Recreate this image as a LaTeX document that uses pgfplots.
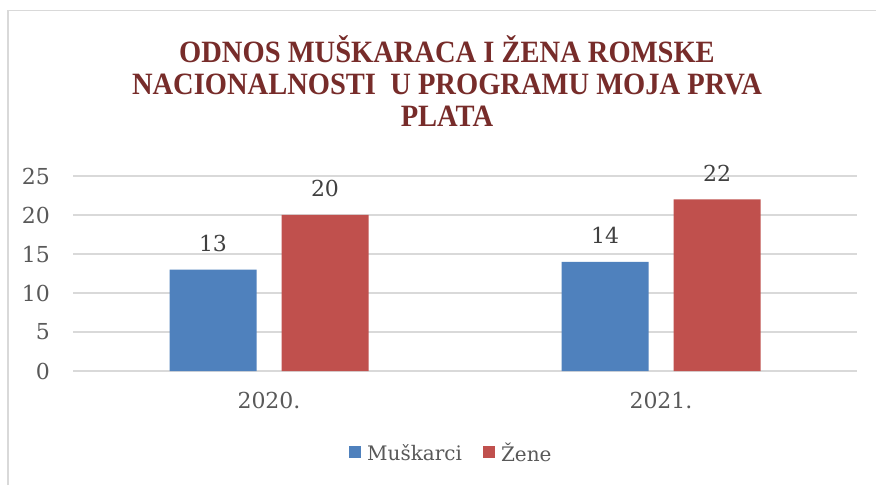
\documentclass[border=0pt]{standalone}
\usepackage{fontspec}
\setmainfont{DejaVu Serif}
\newfontfamily\titlefont[FakeStretch=0.92]{Liberation Serif}
\usepackage{pgfplots}
\pgfplotsset{compat=1.18}
\definecolor{muski}{HTML}{4F81BD}
\definecolor{zene}{HTML}{C0504D}
\definecolor{naslov}{HTML}{772C2A}
\definecolor{mreza}{HTML}{D9D9D9}
\definecolor{tekst}{HTML}{595959}

\begin{document}
\begin{tikzpicture}
\useasboundingbox (0,0) rectangle (876pt,485pt);
\fill[white] (0,0) rectangle (876pt,485pt);
% okvir grafikona
\draw[mreza, line width=2pt] (8pt,0) -- (8pt,474.5pt);
\draw[mreza, line width=1pt] (7pt,474.5pt) -- (876pt,474.5pt);

\begin{axis}[
    at={(73pt,114pt)}, anchor=south west,
    scale only axis,
    width=784pt, height=195pt,
    /pgf/number format/assume math mode=true,
    ybar=25pt,
    bar width=87pt,
    xmin=-0.5, xmax=1.5,
    ymin=0, ymax=25,
    xtick=data,
    xticklabels={2020., 2021.},
    ytick={0,5,...,25},
    major tick length=0pt,
    axis line style={draw=none},
    ymajorgrids,
    major grid style={mreza, line width=1.5pt},
    tick label style={font=\fontsize{22}{26}\selectfont, text=tekst},
    xticklabel style={anchor=base, inner sep=0pt, yshift=-37pt},
    yticklabel style={anchor=east, inner sep=0pt, xshift=-23pt},
    nodes near coords,
    nodes near coords style={font=\fontsize{22}{26}\selectfont, text=black!75,
        anchor=base, inner sep=0pt, yshift=18pt},
    legend style={at={(0.482,-0.42)}, anchor=center, draw=none,
        font=\fontsize{20}{24}\selectfont, text=tekst,
        legend columns=2, column sep=0pt,
        nodes={inner sep=1pt},
        /tikz/every odd column/.append style={column sep=5pt},
        /tikz/every even column/.append style={column sep=20pt}},
    legend image code/.code={\fill[#1, draw=none] (0pt,-5pt) rectangle (12pt,7pt);},
]
\addplot[fill=muski, draw=none] coordinates {(0,13) (1,14)};
\addlegendentry{Muškarci}
\addplot[fill=zene, draw=none] coordinates {(0,20) (1,22)};
\addlegendentry{Žene}
\end{axis}

\begin{scope}[every node/.style={anchor=base, inner sep=0pt, text=naslov,
    font=\titlefont\bfseries\fontsize{31}{32}\selectfont}]
\node at (447pt,422pt) {ODNOS MUŠKARACA I ŽENA ROMSKE};
\node at (447pt,390pt) {NACIONALNOSTI\ \ U PROGRAMU MOJA PRVA};
\node at (447pt,358pt) {PLATA};
\end{scope}
\end{tikzpicture}
\end{document}
